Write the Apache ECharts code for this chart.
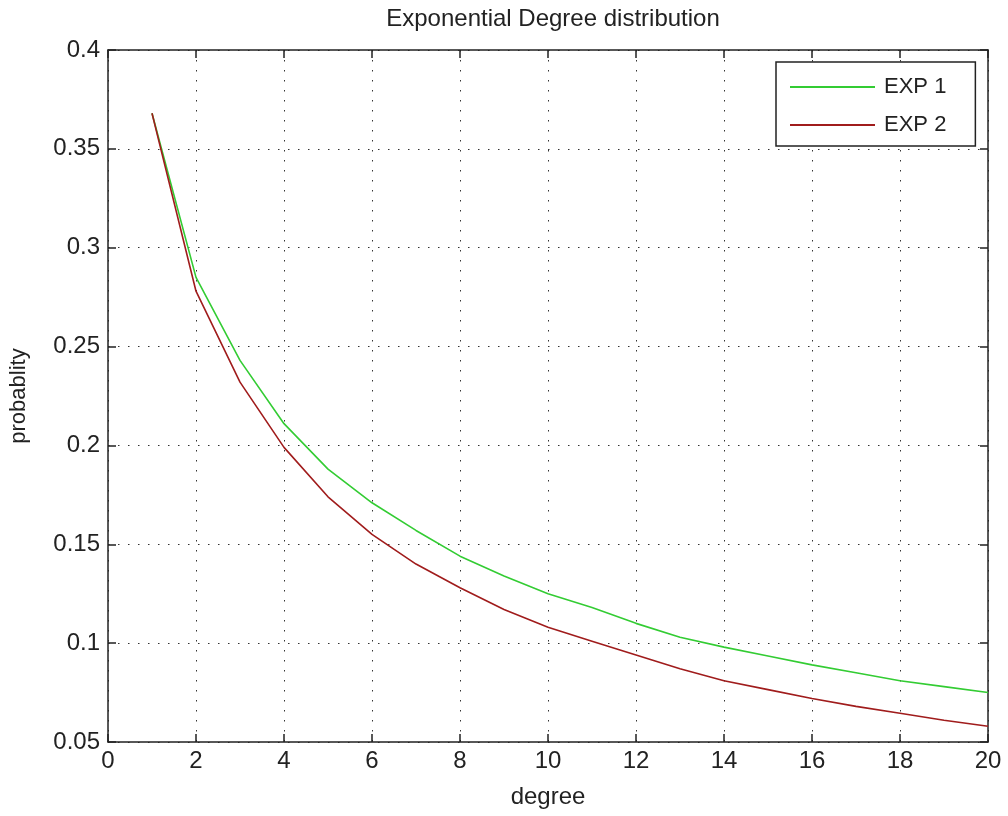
<!DOCTYPE html>
<html>
<head>
<meta charset="utf-8">
<title>Exponential Degree distribution</title>
<script src="https://cdn.jsdelivr.net/npm/echarts@6/dist/echarts.min.js"></script>
<style>
  html, body { margin: 0; padding: 0; background: #fff; }
  #main { width: 1008px; height: 816px; }
</style>
</head>
<body>
<div id="main"></div>
<script>
// 数据（从图上读出来的）
var degrees = [1, 2, 3, 4, 5, 6, 7, 8, 9, 10, 11, 12, 13, 14, 15, 16, 17, 18, 19, 20];
var exp1 = [0.368, 0.285, 0.243, 0.211, 0.188, 0.171, 0.157, 0.144, 0.134, 0.125,
            0.118, 0.110, 0.103, 0.098, 0.0935, 0.089, 0.085, 0.081, 0.078, 0.075];
var exp2 = [0.368, 0.278, 0.232, 0.199, 0.174, 0.155, 0.140, 0.128, 0.117, 0.108,
            0.101, 0.094, 0.087, 0.081, 0.0765, 0.072, 0.068, 0.0645, 0.061, 0.058];
var seriesNames = ['EXP 1', 'EXP 2'];

function pairs(xs, ys) {
    return xs.map(function (x, i) { return [x, ys[i]]; });
}

var font = 'Liberation Sans, Arial, sans-serif';
var axisColor = '#222';

var gridLine = {
    show: true,
    lineStyle: { color: '#333', width: 1, type: [1.5, 8.5] }
};

var option = {
    animation: false,
    backgroundColor: '#fff',
    title: {
        text: 'Exponential Degree distribution',
        left: 548,
        top: 2,
        textAlign: 'center',
        textStyle: { fontFamily: font, fontSize: 24, fontWeight: 'normal', color: '#222' }
    },
    legend: {
        orient: 'vertical',
        left: 776,
        top: 62,
        padding: [14, 29, 10, 14],
        itemGap: 16,
        itemWidth: 85,
        itemHeight: 2,
        icon: 'rect',
        backgroundColor: '#fff',
        borderColor: '#222',
        borderWidth: 1.5,
        borderRadius: 0,
        textStyle: { fontFamily: font, fontSize: 22, color: '#222', padding: [0, 0, 0, 4] },
        data: seriesNames
    },
    grid: { left: 108, right: 20, top: 50, bottom: 74, containLabel: false },
    xAxis: [
        {
            type: 'value',
            min: 0, max: 20, interval: 2,
            name: 'degree',
            nameLocation: 'middle',
            nameGap: 43,
            nameTextStyle: { fontFamily: font, fontSize: 24, color: '#222' },
            axisLine: { show: true, onZero: false, lineStyle: { color: axisColor, width: 1.5 } },
            axisTick: { show: true, inside: true, length: 8, lineStyle: { color: axisColor, width: 1.5 } },
            axisLabel: { fontFamily: font, fontSize: 24, color: '#222', margin: 7 },
            splitLine: gridLine
        },
        {
            type: 'value', position: 'top',
            min: 0, max: 20, interval: 2,
            axisLine: { show: true, onZero: false, lineStyle: { color: axisColor, width: 1.5 } },
            axisTick: { show: true, inside: true, length: 8, lineStyle: { color: axisColor, width: 1.5 } },
            axisLabel: { show: false },
            splitLine: { show: false }
        }
    ],
    yAxis: [
        {
            type: 'value',
            min: 0.05, max: 0.4, interval: 0.05,
            name: 'probablity',
            nameLocation: 'middle',
            nameGap: 78,
            nameTextStyle: { fontFamily: font, fontSize: 22, color: '#222' },
            axisLine: { show: true, onZero: false, lineStyle: { color: axisColor, width: 1.5 } },
            axisTick: { show: true, inside: true, length: 8, lineStyle: { color: axisColor, width: 1.5 } },
            axisLabel: {
                fontFamily: font, fontSize: 24, color: '#222', margin: 8,
                formatter: function (v) { return String(+v.toFixed(2)); }
            },
            splitLine: gridLine
        },
        {
            type: 'value', position: 'right',
            min: 0.05, max: 0.4, interval: 0.05,
            axisLine: { show: true, onZero: false, lineStyle: { color: axisColor, width: 1.5 } },
            axisTick: { show: true, inside: true, length: 8, lineStyle: { color: axisColor, width: 1.5 } },
            axisLabel: { show: false },
            splitLine: { show: false }
        }
    ],
    series: [
        {
            name: seriesNames[0],
            type: 'line',
            data: pairs(degrees, exp1),
            showSymbol: false,
            symbol: 'none',
            itemStyle: { color: '#33cc33' },
            lineStyle: { color: '#33cc33', width: 1.6 }
        },
        {
            name: seriesNames[1],
            type: 'line',
            data: pairs(degrees, exp2),
            showSymbol: false,
            symbol: 'none',
            itemStyle: { color: '#a01c1c' },
            lineStyle: { color: '#a01c1c', width: 1.6 }
        }
    ]
};

var myChart = echarts.init(document.getElementById('main'));
myChart.setOption(option);
</script>
</body>
</html>
